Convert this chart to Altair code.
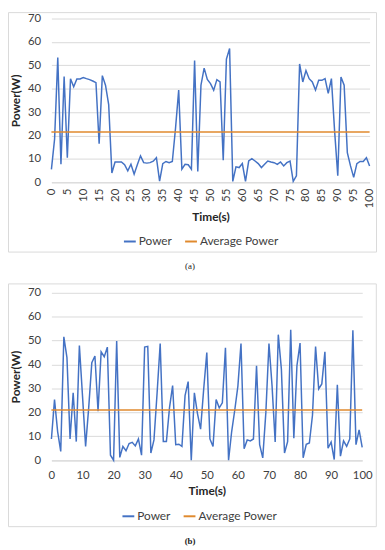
import altair as alt
import pandas as pd

time_s = list(range(101))

power_a = [5.5, 18.5, 53.3, 7.7, 45.2, 10.5, 44.3, 40.8, 44.2, 44.2,
           44.8, 44.3, 43.9, 43.3, 42.6, 16.5, 45.6, 41.5, 33.2, 4.0,
           8.7, 8.7, 8.7, 7.5, 4.9, 7.7, 3.5, 7.5, 11.3, 8.4,
           8.2, 8.4, 9.0, 10.5, 0.5, 8.0, 8.9, 8.4, 8.9, 23.0,
           39.4, 5.6, 7.7, 7.5, 5.6, 52.0, 4.6, 41.5, 48.8, 44.0,
           42.2, 39.4, 43.9, 42.9, 9.4, 52.7, 57.2, 0.4, 6.6, 6.3,
           8.0, 0.4, 9.1, 10.1, 9.1, 8.0, 6.3, 7.7, 9.1, 8.7,
           8.4, 7.7, 8.7, 7.0, 8.4, 9.1, 0.4, 2.8, 50.6, 42.9,
           47.8, 44.3, 42.9, 39.4, 43.6, 43.6, 44.3, 38.0, 44.3, 22.0,
           2.8, 45.0, 41.5, 12.7, 7.0, 2.1, 8.0, 8.9, 8.9, 10.5,
           7.0]

power_b = [8.9, 25.4, 12.0, 3.7, 51.6, 42.9, 8.9, 28.2, 7.8, 48.0,
           27.0, 5.8, 22.0, 40.8, 43.6, 20.5, 45.3, 43.3, 47.3, 2.1,
           0.0, 49.8, 1.2, 5.8, 4.0, 7.0, 7.5, 6.0, 8.9, 2.1,
           47.3, 47.6, 3.0, 8.5, 28.0, 48.8, 7.8, 7.8, 22.0, 31.2,
           6.5, 6.7, 5.8, 27.0, 32.9, 0.0, 28.2, 19.5, 13.0, 29.8,
           45.0, 8.9, 5.8, 25.4, 21.9, 24.0, 47.0, 0.0, 12.0, 21.0,
           31.0, 48.8, 4.8, 8.5, 8.1, 8.9, 39.5, 6.5, 1.0, 20.0,
           48.8, 31.0, 7.6, 52.5, 38.0, 3.0, 7.8, 54.6, 9.2, 39.5,
           49.0, 1.0, 6.7, 7.2, 18.8, 47.5, 29.8, 31.9, 45.3, 5.0,
           7.6, 0.3, 31.5, 1.7, 8.1, 5.8, 8.9, 54.3, 6.5, 12.7,
           5.4]

avg_a = 21.5
avg_b = 21.0

x_ticks_a = list(range(0, 101, 5))
x_ticks_b = list(range(0, 101, 10))
y_ticks = list(range(0, 71, 10))

series = ["Power", "Average Power"]
colors = ["#4472C4", "#E08A2E"]

FONT = "Lato"
GRID = "#D9D9D9"


def panel(power, avg, W, H, xticks, angle, lab_pad, tit_pad, legx, legy,
          rect_top, rect_right, rect_bottom, caption, cap_y, cap_weight):
    df = pd.DataFrame({
        "t": time_s + [0, 100],
        "v": power + [avg, avg],
        "s": ["Power"] * len(time_s) + ["Average Power"] * 2,
    })
    one = pd.DataFrame({"k": [0]})

    border = alt.Chart(one).mark_rect(
        fillOpacity=0, stroke=GRID, strokeWidth=1
    ).encode(
        x=alt.value(-43.5), x2=alt.value(W + rect_right),
        y=alt.value(rect_top), y2=alt.value(H + rect_bottom),
    )

    lines = alt.Chart(df).mark_line(strokeWidth=1.5).encode(
        x=alt.X("t:Q",
                scale=alt.Scale(domain=[0, 100], nice=False),
                axis=alt.Axis(values=xticks, labelAngle=angle, title="Time(s)",
                              grid=False, ticks=False, domain=True,
                              domainColor=GRID, labelPadding=lab_pad,
                              titlePadding=tit_pad, labelFlush=False,
                              labelOverlap=False)),
        y=alt.Y("v:Q",
                scale=alt.Scale(domain=[0, 70], nice=False),
                axis=alt.Axis(values=y_ticks, title="Power(W)", grid=True,
                              gridColor=GRID, ticks=False, domain=False,
                              labelPadding=11, titlePadding=5)),
        color=alt.Color("s:N",
                        scale=alt.Scale(domain=series, range=colors),
                        sort=series,
                        legend=alt.Legend(orient="none", legendX=legx,
                                          legendY=legy, direction="horizontal",
                                          symbolType="stroke", title=None,
                                          symbolSize=144, symbolStrokeWidth=2,
                                          labelFontSize=12, labelFont=FONT,
                                          labelColor="#404040",
                                          labelOffset=2, columnPadding=9)),
    )

    cap = alt.Chart(one).mark_text(
        font="Liberation Serif", fontSize=9, fontWeight=cap_weight,
        color="#222222"
    ).encode(
        x=alt.value(192 - 51.5), y=alt.value(H + cap_y), text=alt.value(caption)
    )

    return alt.layer(border, lines, cap).properties(width=W, height=H)


top = panel(power_a, avg_a, 322.5, 166, x_ticks_a, -90, 6, 4, 72.5, 219,
            -6, 7, 70.7, "(a)", 85, "normal")
bottom = panel(power_b, avg_b, 315, 169.7, x_ticks_b, 0, 10, 4, 71, 219.5,
               -9, 14.3, 67.3, "(b)", 82.3, "bold")

chart = alt.vconcat(top, bottom, spacing=12).resolve_scale(
    color="independent"
).resolve_legend(
    color="independent"
).properties(
    padding=0
).configure_view(stroke=None).configure_axis(
    labelFont=FONT, labelFontSize=11.5, labelColor="#404040",
    titleFont=FONT, titleFontSize=12, titleFontWeight="bold",
    titleColor="#262626"
)

chart.save("out.html", embed_options={"renderer": "svg", "actions": False})
